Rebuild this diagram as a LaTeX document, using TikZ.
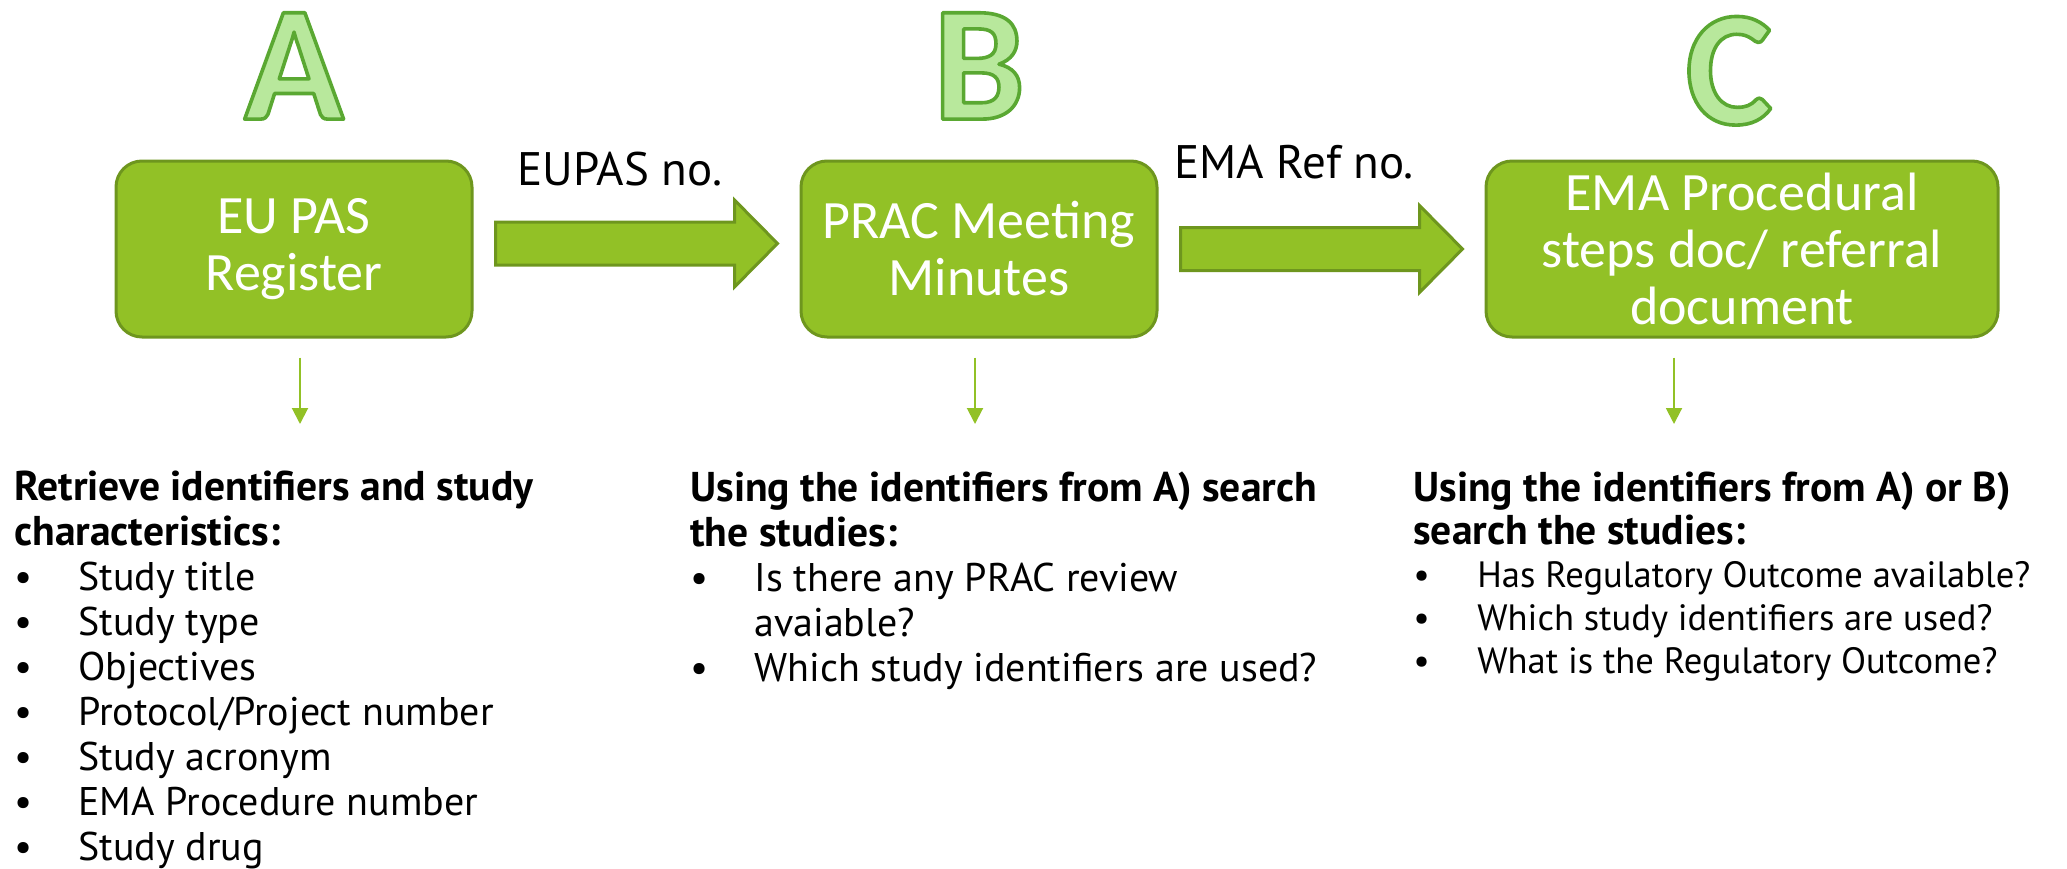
\documentclass[tikz,border=0pt]{standalone}
\usepackage{fontspec}
\setmainfont{PT Sans}[BoldFeatures={Scale=1.04}]
\newfontfamily\boxfamily{Carlito}
\usetikzlibrary{arrows.meta,positioning,calc}
\definecolor{BoxFill}{HTML}{92C126}
\definecolor{BoxLine}{HTML}{6E961E}
\definecolor{LetterFill}{HTML}{B8E89C}
\definecolor{Ink}{HTML}{000000}
\newcommand{\outlined}[1]{\special{pdf:literal direct 2 Tr 1.8 w 1 j 0.353 0.659 0.196 RG}#1\special{pdf:literal direct 0 Tr}}
\newcommand{\bul}{\makebox[32pt][l]{\textbullet}}
\newcommand{\head}[1]{{\fontsize{20}{22.5}\selectfont\bfseries #1}}
\tikzset{
  stepbox/.style={draw=BoxLine,fill=BoxFill,line width=1.5pt,rounded corners=13pt,minimum height=88pt,align=center,font=\boxfamily\fontsize{27}{28.5}\selectfont,text=white,inner sep=2pt},
  letter/.style={font=\boxfamily\bfseries\fontsize{82}{82}\selectfont,text=LetterFill,inner sep=0pt},
  blockarrow/.style={draw=BoxLine,fill=BoxFill,line width=1.5pt},
  downline/.style={-{Triangle[length=8pt,width=8pt]},draw=BoxFill,line width=1pt,shorten <=9.5pt},
  refnote/.style={font=\fontsize{23.5}{27}\selectfont,text=Ink,inner sep=0pt,anchor=base},
  findings/.style={font=\fontsize{20}{22.5}\selectfont,text=Ink,align=left,anchor=north west,inner sep=0pt},
  smallfindings/.style={findings,font=\fontsize{18.3}{21.5}\selectfont}
}

\begin{document}
\begin{tikzpicture}[x=0.5pt,y=-0.5pt,node distance=163pt]
  \useasboundingbox (0,0) rectangle (2067,868);
  % the three sources
  \node[stepbox,minimum width=178pt] (a) at (294,249) {EU PAS\\Register};
  \node[stepbox,minimum width=178pt,right=of a] (b) {PRAC Meeting\\Minutes};
  \node[stepbox,minimum width=256pt,right=of b] (c) {EMA Procedural\\steps doc/ referral\\document};
  \node[letter,above=20pt of a] (la) {\outlined{A}};
  \node[letter,above=20pt of b] (lb) {\outlined{B}};
  \node[letter,above=17pt of c,xshift=-6.5pt] (lc) {\outlined{C}};
  % links between sources
  \foreach \s/\t/\dy in {a/b/5.5,b/c/0}{
    \draw[blockarrow] ($(\s.east)+(22,-\dy-21.5)$) -- ($(\t.west)+(-65,-\dy-21.5)$)
      -- ++(0,-22) -- ($(\t.west)+(-22,-\dy)$) -- ($(\t.west)+(-65,-\dy+43.5)$)
      -- ++(0,-22) -- ($(\s.east)+(22,-\dy+21.5)$) -- cycle;
  }
  \node[refnote] (na) at (620,185) {EUPAS no.};
  \node[refnote] (nb) at (1294,178) {EMA Ref no.};
  % what is looked up in each
  \coordinate (ea) at (300,424);
  \coordinate (eb) at (975,424);
  \coordinate (ec) at (1674,424);
  \draw[downline] (a.south -| ea) -- (ea);
  \draw[downline] (b.south -| eb) -- (eb);
  \draw[downline] (c.south -| ec) -- (ec);
  \node[findings] (ta) at (14,471) {\head{Retrieve identifiers and study}\\\head{characteristics:}\\
    \bul Study title\\\bul Study type\\\bul Objectives\\\bul Protocol/Project number\\
    \bul Study acronym\\\bul EMA Procedure number\\\bul Study drug};
  \node[findings] (tb) at (690,471) {\head{Using the identifiers from A) search}\\\head{the studies:}\\
    \bul Is there any PRAC review\\\hspace*{32pt}avaiable?\\\bul Which study identifiers are used?};
  \node[smallfindings] (tc) at (1413,471) {\head{Using the identifiers from A) or B)}\\\head{search the studies:}\\
    \bul Has Regulatory Outcome available?\\\bul Which study identifiers are used?\\
    \bul What is the Regulatory Outcome?};
\end{tikzpicture}
\end{document}
